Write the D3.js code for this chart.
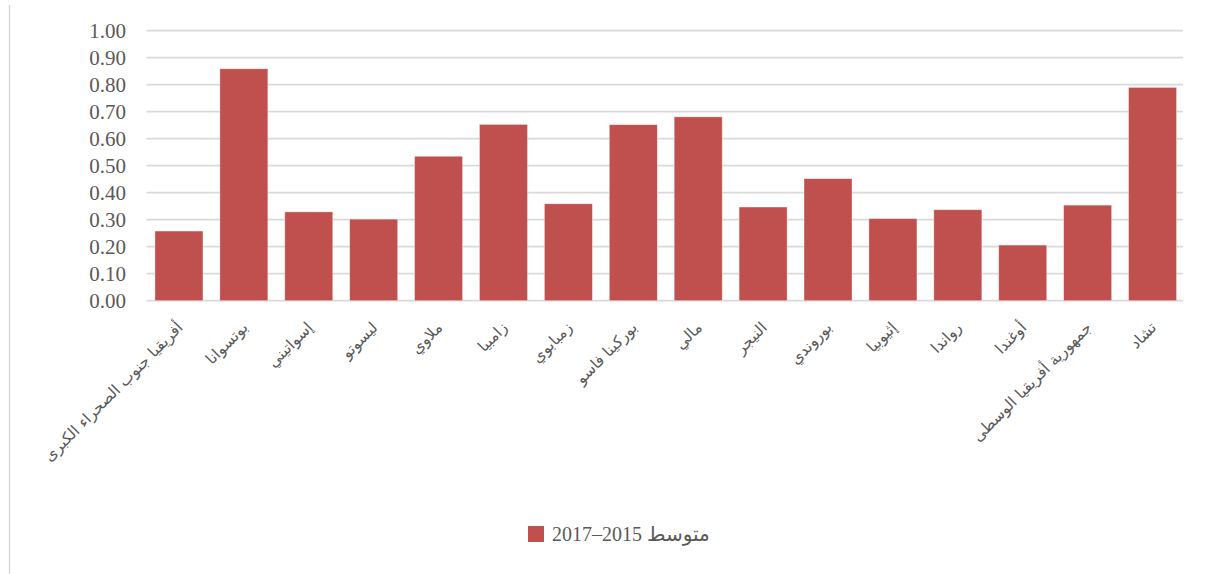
<!DOCTYPE html>
<html>
<head>
<meta charset="utf-8">
<script src="https://cdn.jsdelivr.net/npm/d3@7"></script>
<style>
  html, body { margin: 0; padding: 0; background: #fff; }
</style>
</head>
<body>
<div id="chart"></div>
<script>
// categories (Arabic country names) and values
const countries = [
    "أفريقيا جنوب الصحراء الكبرى", "بوتسوانا", "إسواتيني", "ليسوتو", "ملاوي", "زامبيا",
    "زمبابوي", "بوركينا فاسو", "مالي", "النيجر", "بوروندي", "إثيوبيا",
    "رواندا", "أوغندا", "جمهورية أفريقيا الوسطى", "تشاد"
];
const averages = [0.258, 0.859, 0.329, 0.302, 0.535, 0.653, 0.359, 0.652, 0.681, 0.347, 0.452, 0.304, 0.337, 0.206, 0.354, 0.790];
const yTicks = [0, 0.1, 0.2, 0.3, 0.4, 0.5, 0.6, 0.7, 0.8, 0.9, 1.0];
const seriesName = "متوسط 2015–2017";

const width = 1208, height = 574;
const margin = { top: 30.7, left: 146.5, right: 23, bottom: 273.3 };

const svg = d3.select("#chart")
    .append("svg")
    .attr("width", width)
    .attr("height", height);

// frame line on the left
svg.append("line")
    .attr("x1", 9.5).attr("x2", 9.5)
    .attr("y1", 5).attr("y2", height)
    .style("stroke", "#d9d9d9")
    .style("stroke-width", 1.5);

const x = d3.scaleBand()
    .domain(countries)
    .range([margin.left, width - margin.right])
    .paddingInner(0.26)
    .paddingOuter(0.13);

const y = d3.scaleLinear()
    .domain([0, 1])
    .range([height - margin.bottom, margin.top]);

// grid lines
svg.append("g")
    .selectAll("line")
    .data(yTicks)
    .enter()
    .append("line")
    .attr("x1", margin.left)
    .attr("x2", width - margin.right - 2)
    .attr("y1", d => y(d))
    .attr("y2", d => y(d))
    .style("stroke", "#d9d9d9")
    .style("stroke-width", 1.7);

// y tick labels
svg.append("g")
    .selectAll("text")
    .data(yTicks)
    .enter()
    .append("text")
    .attr("x", 126)
    .attr("y", d => y(d))
    .attr("dy", "0.35em")
    .attr("text-anchor", "end")
    .style("font-family", "'Liberation Serif', 'Times New Roman', serif")
    .style("font-size", "21px")
    .style("fill", "#595959")
    .text(d => d.toFixed(2));

// bars
svg.append("g")
    .selectAll("rect")
    .data(averages)
    .enter()
    .append("rect")
    .attr("x", (d, i) => x(countries[i]))
    .attr("width", x.bandwidth())
    .attr("y", d => y(d))
    .attr("height", d => y(0) - y(d))
    .style("fill", "#c0504d")
    .style("stroke", "#ffffff")
    .style("stroke-opacity", 0.5)
    .style("stroke-width", 0.75);

// rotated category labels
svg.append("g")
    .selectAll("text")
    .data(countries)
    .enter()
    .append("text")
    .attr("transform", d => `translate(${x(d) + x.bandwidth() / 2 + 1},${y(0) + 24}) rotate(-45)`)
    .attr("text-anchor", "end")
    .attr("dy", "0.35em")
    .style("font-family", "'DejaVu Sans', sans-serif")
    .style("font-size", "15.5px")
    .style("fill", "#595959")
    .text(d => d);

// legend
const legend = svg.append("g");
legend.append("rect")
    .attr("x", 528)
    .attr("y", 526)
    .attr("width", 16)
    .attr("height", 16)
    .style("fill", "#c0504d");
legend.append("text")
    .attr("x", 552)
    .attr("y", 534)
    .attr("dy", "0.35em")
    .attr("text-anchor", "start")
    .style("font-family", "'Liberation Serif', 'DejaVu Sans', serif")
    .style("font-size", "20px")
    .style("fill", "#595959")
    .text(seriesName);
</script>
</body>
</html>
